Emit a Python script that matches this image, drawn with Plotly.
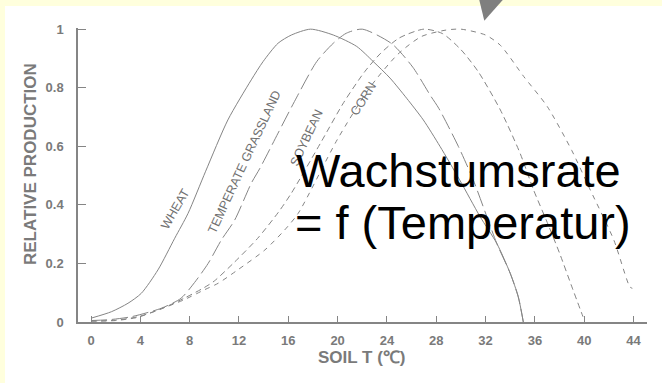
import plotly.graph_objects as go

# ---------------- data ----------------
wheat_t = [0.0, 1.65, 3.0, 4.08, 5.43, 6.79, 7.87, 9.3, 11.1, 13.0, 13.95, 15.17,
           16.25, 17.8, 19.65, 21.55, 22.9, 24.25, 25.6, 26.95, 28.3, 29.9, 31.55,
           32.9, 34.0, 34.65, 35.06]
wheat_v = [0.013, 0.035, 0.064, 0.098, 0.178, 0.286, 0.371, 0.515, 0.69, 0.827, 0.889, 0.952,
           0.98, 1.0, 0.98, 0.941, 0.889, 0.833, 0.764, 0.69, 0.6, 0.485, 0.36,
           0.269, 0.166, 0.086, 0.0]

grass_t = [0.0, 1.5, 3.27, 5.7, 7.3, 8.4, 9.5, 10.57, 11.65, 13.0, 13.7, 15.17, 16.5,
           18.3, 19.65, 20.7, 22.0, 24.4, 26.1, 27.5, 28.2, 29.8, 31.0, 32.1, 32.9,
           34.0, 34.65, 35.06]
grass_v = [0.005, 0.008, 0.018, 0.047, 0.081, 0.135, 0.2, 0.28, 0.348, 0.474, 0.525, 0.645, 0.753,
           0.889, 0.952, 0.986, 1.0, 0.95, 0.87, 0.775, 0.73, 0.599, 0.485, 0.36, 0.269,
           0.166, 0.086, 0.0]

soy_t = [0.0, 2.0, 3.8, 5.7, 7.5, 9.2, 10.0, 11.65, 13.5, 15.2, 16.25, 18.6, 20.5, 22.2,
         23.5, 25.0, 27.0, 28.5, 30.0, 31.4, 33.2, 34.8, 35.9, 37.0, 38.0, 39.0, 39.9]
soy_v = [0.003, 0.006, 0.018, 0.045, 0.08, 0.118, 0.14, 0.205, 0.285, 0.375, 0.44, 0.61, 0.75, 0.855,
         0.918, 0.97, 1.0, 0.985, 0.93, 0.855, 0.724, 0.576, 0.45, 0.34, 0.235, 0.12, 0.018]

corn_t = [0.0, 2.0, 3.8, 5.7, 7.5, 9.2, 10.3, 11.9, 14.1, 15.7, 16.8, 20.0, 22.6, 24.9,
          26.8, 28.8, 30.0, 32.0, 33.2, 35.1, 37.0, 39.0, 40.5, 42.4, 43.7, 43.9]
corn_v = [0.003, 0.005, 0.016, 0.045, 0.075, 0.11, 0.132, 0.178, 0.246, 0.314, 0.371, 0.625, 0.8, 0.915,
          0.975, 0.997, 1.0, 0.98, 0.945, 0.838, 0.736, 0.585, 0.45, 0.28, 0.12, 0.115]

x_ticks = [0, 4, 8, 12, 16, 20, 24, 28, 32, 36, 40, 44]
y_ticks = [0, 0.2, 0.4, 0.6, 0.8, 1]
y_ticktext = ["0", "0.2", "0.4", "0.6", "0.8", "1"]

crop_labels = ["WHEAT", "TEMPERATE GRASSLAND", "SOYBEAN", "CORN"]
label_t = [6.84, 12.47, 17.5, 22.08]
label_v = [0.386, 0.545, 0.627, 0.762]
label_angle = [-60, -65, -65, -58]

# ---------------- figure ----------------
GRAY = "#858585"
TXT = "#7a7a7a"
LBL = "#6f6f6f"
W, H = 662, 383
ML, MR, MT, MB = 78, 15, 28, 61
PW, PH = W - ML - MR, H - MT - MB


def px(x):
    return (x - ML) / PW


def py(y):
    return (H - MB - y) / PH


fig = go.Figure()
series = [
    (wheat_t, wheat_v, "solid"),
    (grass_t, grass_v, "16px,5px"),
    (soy_t, soy_v, "6px,4px"),
    (corn_t, corn_v, "5px,5px"),
]
for t, v, dash in series:
    fig.add_trace(go.Scatter(
        x=t, y=v, mode="lines", hoverinfo="skip", showlegend=False,
        line=dict(color=GRAY, width=1, dash=dash, shape="spline", smoothing=0.7),
    ))

annotations = []
for txt, t, v, a in zip(crop_labels, label_t, label_v, label_angle):
    annotations.append(dict(
        x=t, y=v, xref="x", yref="y", text=txt, showarrow=False, textangle=a,
        font=dict(family="Arial, Liberation Sans", size=12.5, color=LBL),
        xanchor="center", yanchor="middle",
    ))

annotations += [
    dict(x=px(30), y=py(164), xref="paper", yref="paper", text="RELATIVE PRODUCTION",
         showarrow=False, textangle=-90, xanchor="center", yanchor="middle",
         font=dict(family="Arial, Liberation Sans", size=17, color=TXT, weight="bold")),
    dict(x=px(362), y=py(357), xref="paper", yref="paper", text="SOIL T (℃)",
         showarrow=False, xanchor="center", yanchor="middle",
         font=dict(family="Arial, Liberation Sans", size=17, color=TXT, weight="bold")),
    dict(x=px(294), y=py(170), xref="paper", yref="paper", text="Wachstumsrate",
         showarrow=False, xanchor="left", yanchor="middle",
         font=dict(family="Arial, Liberation Sans", size=47, color="black")),
    dict(x=px(292.5), y=py(222), xref="paper", yref="paper", text="= f (Temperatur)",
         showarrow=False, xanchor="left", yanchor="middle",
         font=dict(family="Arial, Liberation Sans", size=47, color="black")),
]

shapes = [
    dict(type="rect", xref="paper", yref="paper", x0=px(5), x1=px(670), y0=py(390), y1=py(6),
         fillcolor="white", line=dict(width=0), layer="below"),
    dict(type="path", xref="paper", yref="paper",
         path=f"M {px(478.8)},{py(-2)} L {px(504.5)},{py(-2)} L {px(484.3)},{py(20.7)} Z",
         fillcolor="#7f7f7f", line=dict(width=0), layer="above"),
]

tickfont = dict(family="Arial, Liberation Sans", size=13, color=TXT, weight="bold")
fig.update_layout(
    width=W, height=H,
    margin=dict(l=ML, r=MR, t=MT, b=MB),
    paper_bgcolor="#FFFFDD", plot_bgcolor="white",
    annotations=annotations, shapes=shapes,
    xaxis=dict(range=[-1.054, 45.09], tickvals=x_ticks, ticks="inside", ticklen=6,
               tickcolor=GRAY, tickwidth=1, showline=True, linecolor=GRAY, linewidth=1.5,
               showgrid=False, zeroline=False, tickfont=tickfont, ticklabelstandoff=6,
               fixedrange=True),
    yaxis=dict(range=[0, 1.004], tickvals=y_ticks, ticktext=y_ticktext, ticks="inside",
               ticklen=8, tickcolor=GRAY, tickwidth=1, showline=True, linecolor=GRAY,
               linewidth=1.5, showgrid=False, zeroline=False, tickfont=tickfont,
               ticklabelstandoff=10, fixedrange=True),
)

fig.write_html("out.html", config={"displayModeBar": False},
               post_script="document.body.style.margin='0';document.body.style.overflow='hidden';")
